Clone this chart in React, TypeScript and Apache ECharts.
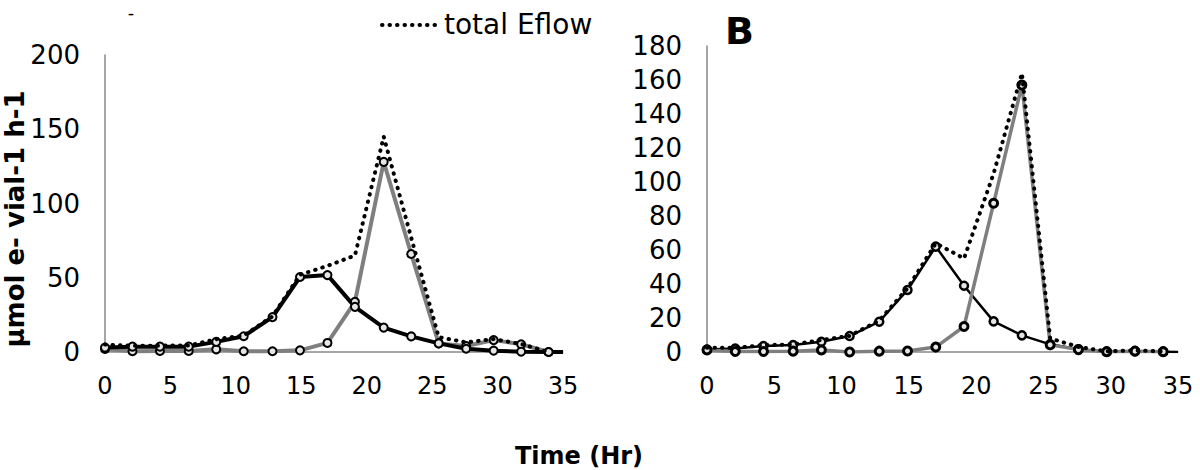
import React, { useEffect, useRef } from "react";
import * as echarts from "echarts";

// sampling times (Hr), shared by both panels
const hours = [0, 2.1, 4.2, 6.4, 8.5, 10.6, 12.8, 14.9, 17.0, 19.1, 21.3, 23.4, 25.5, 27.6, 29.7, 31.8, 33.9];
const endHour = 35;

// Panel A
const aBlack = [3, 3.6, 3.6, 3.6, 6.8, 10.6, 23.5, 50.5, 51.8, 30.4, 16.4, 10.5, 5.8, 2.2, 0.9, 0.2, 0];
const aGray = [2, 0.5, 0.7, 0.7, 1.8, 0.5, 0.5, 1.1, 6.1, 33.8, 128, 66, 5.8, 4, 8, 5.2, 0];
const aTotal = [5, 4.2, 4.3, 4.4, 8.6, 11.1, 24, 52, 58, 65, 145, 77, 10, 6.5, 8.7, 5.4, 0];

// Panel B
const bBlack = [1.5, 2, 3.5, 4.1, 6, 9.4, 17.8, 36.5, 62, 39, 18, 9.8, 4.5, 1.6, 0.2, 0.5, 0.2];
const bGray = [1.2, 0.3, 0.3, 0.5, 1.2, 0, 0.5, 0.6, 2.9, 15, 87.5, 157, 4.2, 1.4, 0.2, 0.5, 0.2];
const bTotal = [2.5, 2.5, 4, 4.5, 7, 9.5, 18.5, 37.5, 64, 55, 105, 164, 8, 3, 0.4, 1, 0.3];

const yMaxA = 200;
const yStepA = 50;
const yMaxB = 180;
const yStepB = 20;
const xStep = 5;

const FONT = "DejaVu Sans";

const pairs = (vals: number[]) => vals.map((v, i) => [hours[i], v]);
const withEnd = (vals: number[]) => [
  ...pairs(vals),
  { value: [endHour, 0], symbol: "none" },
];

export default function App() {
  const ref = useRef<HTMLDivElement>(null);

  useEffect(() => {
    document.body.style.margin = "0";
    if (!ref.current) return;
    const chart = echarts.init(ref.current, null, { renderer: "svg" });

    const axisLine = { show: true, lineStyle: { color: "#898989", width: 1.5 } };
    const xAxisBase = {
      type: "value",
      min: 0,
      max: endHour,
      interval: xStep,
      axisLine,
      axisTick: { show: false },
      splitLine: { show: false },
      axisLabel: { color: "#000", fontSize: 24, fontFamily: FONT, margin: 22 },
    };
    const yAxisBase = {
      type: "value",
      min: 0,
      axisLine,
      axisTick: { show: false },
      splitLine: { show: false },
      axisLabel: { color: "#000", fontSize: 26, fontFamily: FONT, margin: 25 },
    };

    const marker = (border: number) => ({
      color: "#e6e6e6",
      borderColor: "#000",
      borderWidth: border,
    });

    const mk = (
      name: string,
      data: any[],
      idx: number,
      color: string,
      width: number,
      border: number
    ) => ({
      name,
      type: "line",
      xAxisIndex: idx,
      yAxisIndex: idx,
      data,
      symbol: "circle",
      symbolSize: 8,
      showSymbol: true,
      lineStyle: { color, width },
      itemStyle: marker(border),
      z: 3,
    });

    const dotted = (data: any[], idx: number) => ({
      name: "total Eflow",
      type: "line",
      xAxisIndex: idx,
      yAxisIndex: idx,
      data,
      symbol: "none",
      lineStyle: { color: "#000", width: 4, type: [0.5, 7], cap: "round" },
      itemStyle: { color: "#000" },
      z: 4,
    });

    chart.setOption({
      animation: false,
      backgroundColor: "#fff",
      grid: [
        { left: 105, top: 55, width: 458, height: 297 },
        { left: 707, top: 46, width: 471, height: 306 },
      ],
      xAxis: [
        { ...xAxisBase, gridIndex: 0 },
        { ...xAxisBase, gridIndex: 1 },
      ],
      yAxis: [
        { ...yAxisBase, gridIndex: 0, max: yMaxA, interval: yStepA },
        { ...yAxisBase, gridIndex: 1, max: yMaxB, interval: yStepB },
      ],
      series: [
        mk("A2", pairs(aGray), 0, "#7f7f7f", 4, 2),
        mk("A1", withEnd(aBlack), 0, "#000", 4, 2),
        dotted(pairs(aTotal), 0),
        mk("B1", withEnd(bBlack), 1, "#000", 2.5, 2.5),
        mk("B2", pairs(bGray), 1, "#7f7f7f", 3.5, 3),
        dotted(pairs(bTotal), 1),
      ],
      graphic: [
        // legend entry
        {
          type: "line",
          shape: { x1: 382, y1: 25, x2: 437, y2: 25 },
          style: { stroke: "#000", lineWidth: 4, lineDash: [0.5, 7], lineCap: "round" },
        },
        {
          type: "text",
          x: 444,
          y: 24,
          style: {
            text: "total Eflow",
            fontSize: 28,
            fontFamily: FONT,
            fill: "#000",
            textAlign: "left",
            textVerticalAlign: "middle",
          },
        },
        {
          type: "text",
          x: 131,
          y: 12,
          style: {
            text: "-",
            fontSize: 18,
            fontFamily: FONT,
            fill: "#000",
            textAlign: "center",
            textVerticalAlign: "middle",
          },
        },
        {
          type: "text",
          x: 725,
          y: 31,
          style: {
            text: "B",
            fontSize: 38,
            fontWeight: "bold",
            fontFamily: FONT,
            fill: "#000",
            textAlign: "left",
            textVerticalAlign: "middle",
          },
        },
        {
          type: "text",
          x: 15,
          y: 219,
          rotation: Math.PI / 2,
          style: {
            text: "µmol e- vial-1 h-1",
            fontSize: 26,
            fontWeight: "bold",
            fontFamily: FONT,
            fill: "#000",
            textAlign: "center",
            textVerticalAlign: "middle",
          },
        },
        {
          type: "text",
          x: 579,
          y: 456,
          style: {
            text: "Time (Hr)",
            fontSize: 24,
            fontWeight: "bold",
            fontFamily: FONT,
            fill: "#000",
            textAlign: "center",
            textVerticalAlign: "middle",
          },
        },
      ],
    });

    return () => chart.dispose();
  }, []);

  return <div ref={ref} style={{ width: 1200, height: 470 }} />;
}
